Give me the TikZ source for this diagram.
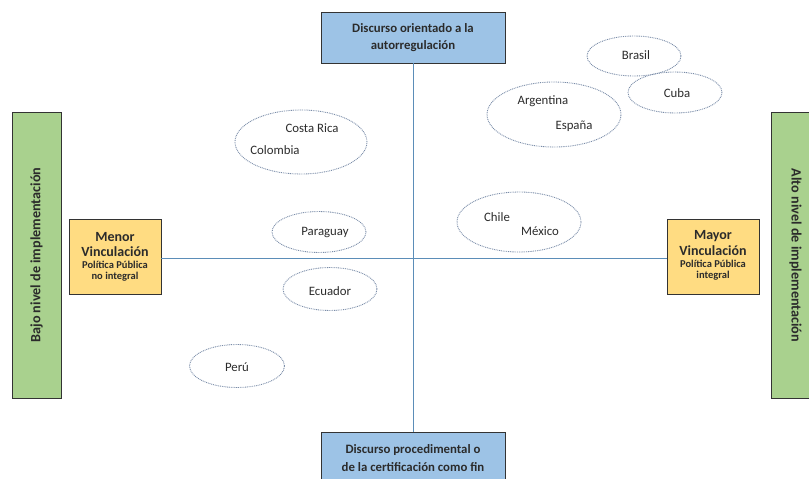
\documentclass[tikz,border=0pt]{standalone}
\usepackage{fontspec}
\setmainfont{Carlito}
\usetikzlibrary{shapes.geometric}
\definecolor{boxblue}{HTML}{9DC3E6}
\definecolor{barGreen}{HTML}{A9D18E}
\definecolor{boxYellow}{HTML}{FFDC82}
\definecolor{axisBlue}{HTML}{5B8DB8}
\definecolor{dotBlue}{HTML}{7A8CA8}
\definecolor{txt}{HTML}{2B2B2B}
\begin{document}
\begin{tikzpicture}[x=1pt,y=-1pt,
  bluebox/.style={draw=black!80,line width=0.9pt,fill=boxblue,minimum width=184pt,align=center,inner sep=0pt,font=\bfseries\fontsize{12.8}{17.5}\selectfont,text=txt},
  greenbar/.style={draw=black!80,line width=0.9pt,fill=barGreen,minimum width=286pt,inner sep=0pt,font=\bfseries\fontsize{14.2}{16}\selectfont,text=txt},
  yellowbox/.style={draw=black!80,line width=0.9pt,fill=boxYellow,minimum width=92pt,minimum height=75pt,align=center,inner sep=0pt,text=txt},
  country/.style={draw=dotBlue,line width=0.9pt,dash pattern=on 0.9pt off 0.9pt,ellipse,inner sep=0pt},
  cname/.style={font=\fontsize{12.8}{14}\selectfont,text=txt,inner sep=0pt},
  big/.style={font=\bfseries\fontsize{14}{15}\selectfont},
  axis/.style={draw=axisBlue,line width=1pt}]
\useasboundingbox (0,0) rectangle (809,479);
% green bars
\node[greenbar,minimum height=49pt,rotate=90] (lowbar) at (36.5,255) {Bajo nivel de implementación};
\node[greenbar,minimum height=49pt,rotate=-90] (highbar) at (795.5,255.5) {Alto nivel de implementación};
% blue boxes
\node[bluebox,minimum height=51pt] (top) at (413,37.5) {Discurso orientado a la\\autorregulación};
\node[bluebox,minimum height=52pt] (bottom) at (413,458) {Discurso procedimental o\\de la certificación como fin};
% yellow boxes
\node[yellowbox] (menor) at (115,257) {};
\node[yellowbox] (mayor) at (713,256.5) {};
\node[big,text=txt] (menor1) at (115,237) {Menor};
\node[big,text=txt] (menor2) at (115,252) {Vinculación};
\node[font=\bfseries\fontsize{10.5}{12}\selectfont,text=txt] (menor3) at (115,264.5) {Política Pública};
\node[font=\bfseries\fontsize{10.5}{12}\selectfont,text=txt] (menor4) at (115,276.5) {no integral};
\node[big,text=txt] (mayor1) at (713,236) {Mayor};
\node[big,text=txt] (mayor2) at (713,251) {Vinculación};
\node[font=\bfseries\fontsize{10.5}{12}\selectfont,text=txt] (mayor3) at (713,263.5) {Política Pública};
\node[font=\bfseries\fontsize{10.5}{12}\selectfont,text=txt] (mayor4) at (713,276) {integral};
% axes
\draw[axis] (top.south) -- (bottom.north);
\draw[axis] (menor.east |- 0,258) coordinate (hl) -- (mayor.west |- 0,258) coordinate (hr);
% country ellipses
\node[country,minimum width=132pt,minimum height=64pt] (e1) at (301,142) {};
\node[cname] (cr) at (312,128) {Costa Rica};
\node[cname] (co) at (275,150) {Colombia};
\node[country,minimum width=94pt,minimum height=41pt] (e2) at (319,232) {};
\node[cname] (py) at (325,232) {Paraguay};
\node[country,minimum width=94pt,minimum height=43pt] (e3) at (330,289) {};
\node[cname] (ec) at (330,291) {Ecuador};
\node[country,minimum width=95pt,minimum height=43pt] (e4) at (237,366) {};
\node[cname] (pe) at (237,367) {Perú};
\node[country,minimum width=94pt,minimum height=40pt] (e5) at (634,56) {};
\node[cname] (br) at (636,55) {Brasil};
\node[country,minimum width=94pt,minimum height=41pt] (e6) at (675,92.5) {};
\node[cname] (cu) at (677,93) {Cuba};
\node[country,minimum width=134pt,minimum height=65pt] (e7) at (554,114.5) {};
\node[cname] (ar) at (543,101) {Argentina};
\node[cname] (es) at (574,126) {España};
\node[country,minimum width=124pt,minimum height=60pt] (e8) at (519,222) {};
\node[cname] (cl) at (497,217) {Chile};
\node[cname] (mx) at (540,231) {México};
\end{tikzpicture}
\end{document}
